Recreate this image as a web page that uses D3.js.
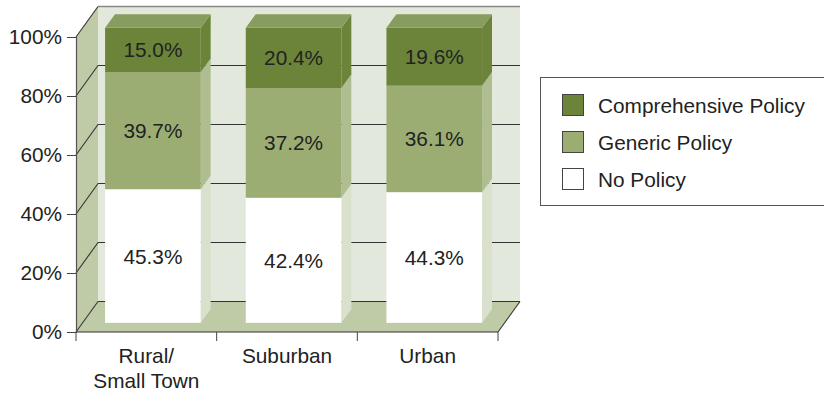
<!DOCTYPE html>
<html>
<head>
<meta charset="utf-8">
<script src="https://cdn.jsdelivr.net/npm/d3@7"></script>
<style>
  html, body { margin: 0; padding: 0; background: #fff; }
  svg { display: block; font-family: "Liberation Sans", Arial, Helvetica, sans-serif; }
</style>
</head>
<body>
<svg id="chart" width="824" height="393"></svg>
<script>
// Policy adoption by locale, shares of each group (percent)
const categories = ["Rural/\nSmall Town", "Suburban", "Urban"];
const noPolicy = [45.3, 42.4, 44.3];
const genericPolicy = [39.7, 37.2, 36.1];
const comprehensivePolicy = [15.0, 20.4, 19.6];
const yTicks = [0, 20, 40, 60, 80, 100];
const seriesNames = ["No Policy", "Generic Policy", "Comprehensive Policy"];
const legendOrder = ["Comprehensive Policy", "Generic Policy", "No Policy"];

const rows = categories.map((c, i) => ({
  cat: c,
  "No Policy": noPolicy[i],
  "Generic Policy": genericPolicy[i],
  "Comprehensive Policy": comprehensivePolicy[i]
}));

const svg = d3.select("#chart");
const fontSize = 20.8;

// Front plane of the box and the depth vector pointing into the chart
const plotLeft = 76, plotRight = 498, plotBottom = 332, plotTop = 37;
const depth = { dx: 22, dy: -30.5 };

const x = d3.scaleBand().domain(categories).range([plotLeft, plotRight])
  .paddingInner(0.32).paddingOuter(0.16);
const y = d3.scaleLinear().domain([0, 100]).range([plotBottom, plotTop]);

const faceColors = {
  "Comprehensive Policy": { front: "#6b843a", side: "#6b843a", top: "#889c5f" },
  "Generic Policy": { front: "#9cad74", side: "#afbe90", top: "#b4c297" },
  "No Policy": { front: "#ffffff", side: "#d9e0cc", top: "#f0f3ea" }
};

const pt = (px, py, f) => [px + depth.dx * f, py + depth.dy * f];
const poly = pts => pts.map(p => p.join(",")).join(" ");

// Back wall
const bl = pt(plotLeft, y(0), 1), br = pt(plotRight, y(0), 1);
const tl = pt(plotLeft, y(100), 1), trr = pt(plotRight, y(100), 1);
svg.append("polygon").attr("points", poly([tl, trr, br, bl])).attr("fill", "#e3e8dc");
// Left wall
svg.append("polygon")
  .attr("points", poly([[plotLeft, y(100)], tl, bl, [plotLeft, y(0)]]))
  .attr("fill", "#bfcaa7");
// Floor
svg.append("polygon")
  .attr("points", poly([[plotLeft, y(0)], [plotRight, y(0)], br, bl]))
  .attr("fill", "#bfcaa7");

// Grid lines on the back wall and the left wall
yTicks.forEach(t => {
  const b0 = pt(plotLeft, y(t), 1), b1 = pt(plotRight, y(t), 1);
  svg.append("line").attr("x1", b0[0]).attr("y1", b0[1]).attr("x2", b1[0]).attr("y2", b1[1])
    .attr("stroke", t < 100 ? "#333" : "#888").attr("stroke-width", t < 100 ? 1.2 : 1.5);
  svg.append("line").attr("x1", plotLeft).attr("y1", y(t)).attr("x2", b0[0]).attr("y2", b0[1])
    .attr("stroke", "#333").attr("stroke-width", 1.1);
});
// Floor right edge
svg.append("line").attr("x1", plotRight).attr("y1", y(0)).attr("x2", br[0]).attr("y2", br[1])
  .attr("stroke", "#333").attr("stroke-width", 1.1);

// Stacked 3D bars
const stack = d3.stack().keys(seriesNames)(rows);
const f0 = 0.3, f1 = 0.75;
const bw = x.bandwidth();

const barG = svg.append("g");
categories.forEach((c, ci) => {
  const x0 = x(c), x1 = x0 + bw;
  stack.forEach(layer => {
    const key = layer.key;
    const d = layer[ci];
    const yb = y(d[0]), yt = y(d[1]);
    const col = faceColors[key];
    // right side face
    barG.append("polygon")
      .attr("points", poly([pt(x1, yt, f0), pt(x1, yt, f1), pt(x1, yb, f1), pt(x1, yb, f0)]))
      .attr("fill", col.side);
    // front face
    const a = pt(x0, yt, f0), b = pt(x1, yb, f0);
    barG.append("rect").attr("x", a[0]).attr("y", a[1])
      .attr("width", b[0] - a[0]).attr("height", b[1] - a[1]).attr("fill", col.front);
    // top face on the uppermost segment
    if (key === seriesNames[seriesNames.length - 1]) {
      barG.append("polygon")
        .attr("points", poly([pt(x0, yt, f0), pt(x0, yt, f1), pt(x1, yt, f1), pt(x1, yt, f0)]))
        .attr("fill", col.top);
    }
    // value label
    const c0 = pt(x0 + bw / 2, (yb + yt) / 2, f0);
    barG.append("text").attr("x", c0[0]).attr("y", c0[1])
      .attr("text-anchor", "middle").attr("dominant-baseline", "central")
      .attr("font-size", fontSize).attr("fill", "#222")
      .text(d3.format(".1f")(d.data[key]) + "%");
  });
});

// Front axes
const yAxis = d3.axisLeft(y).tickValues(yTicks).tickSize(9).tickPadding(5)
  .tickFormat(d => d + "%");
const gy = svg.append("g").attr("transform", `translate(${plotLeft},0)`).call(yAxis);
gy.select(".domain").attr("stroke", "#555").attr("stroke-width", 1.2);
gy.selectAll(".tick line").attr("stroke", "#444");
gy.selectAll(".tick text").attr("font-size", fontSize).attr("fill", "#222")
  .attr("font-family", "Liberation Sans, Arial, sans-serif");

svg.append("line").attr("x1", plotLeft).attr("y1", y(0)).attr("x2", plotRight).attr("y2", y(0))
  .attr("stroke", "#333").attr("stroke-width", 1.2);
const step = x.step();
const boundaries = d3.range(categories.length + 1).map(i => plotLeft + i * step);
svg.selectAll(".xtick").data(boundaries).join("line")
  .attr("x1", d => d).attr("x2", d => d).attr("y1", y(0)).attr("y2", y(0) + 9)
  .attr("stroke", "#444");

// Category labels
categories.forEach((c, i) => {
  const cx = plotLeft + i * step + step / 2;
  const t = svg.append("text").attr("x", cx).attr("y", 363)
    .attr("text-anchor", "middle").attr("font-size", fontSize).attr("fill", "#222");
  c.split("\n").forEach((line, j) => {
    t.append("tspan").attr("x", cx).attr("dy", j === 0 ? 0 : 25).text(line);
  });
});

// Legend
const lg = svg.append("g");
lg.append("rect").attr("x", 540.5).attr("y", 77.5).attr("width", 300).attr("height", 128)
  .attr("fill", "#fff").attr("stroke", "#555").attr("stroke-width", 1);
legendOrder.forEach((k, i) => {
  const cy = 105 + i * 37;
  lg.append("rect").attr("x", 562.5).attr("y", cy - 10.5).attr("width", 21).attr("height", 21)
    .attr("fill", faceColors[k].front).attr("stroke", "#444").attr("stroke-width", 1);
  lg.append("text").attr("x", 598).attr("y", cy).attr("dominant-baseline", "central")
    .attr("font-size", fontSize).attr("fill", "#222").text(k);
});
</script>
</body>
</html>
